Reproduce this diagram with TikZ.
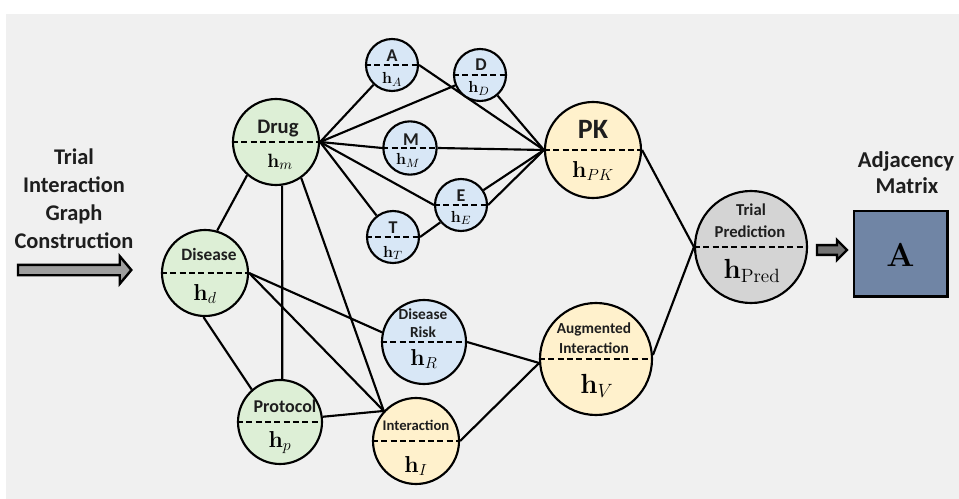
\documentclass[tikz,border=0pt]{standalone}
\usepackage[no-math]{fontspec}
\setmainfont{Carlito}
\usetikzlibrary{shapes.arrows}
\definecolor{bgc}{HTML}{F0F0F0}
\definecolor{cgreen}{HTML}{DDEFD6}
\definecolor{cblue}{HTML}{D8E7F6}
\definecolor{cyellow}{HTML}{FFF1CC}
\definecolor{cgray}{HTML}{D4D4D4}
\definecolor{cmat}{HTML}{7085A5}
\definecolor{txt}{HTML}{1E1E1E}
\pgfdeclarelayer{bglayer}
\pgfdeclarelayer{edgelayer}
\pgfsetlayers{bglayer,edgelayer,main}
\begin{document}
\begin{tikzpicture}[x=0.75pt,y=-0.75pt,
  circ/.style={circle, draw=black, line width=1.6pt, inner sep=0pt, minimum size=#1},
  dline/.style={line width=1.4pt, dash pattern=on 4.5pt off 2.5pt},
  conn/.style={line width=1.6pt, draw=black},
  lbl/.style={font=\bfseries\fontsize{#1}{#1}\selectfont, text=txt, inner sep=0pt, anchor=base},
  mlbl/.style={font=\fontsize{#1}{#1}\selectfont, text=black, inner sep=0pt, anchor=base},
  blockarrow/.style={shape=single arrow, draw=black, line width=1.8pt, inner xsep=0pt, single arrow head indent=0pt}
]
\useasboundingbox (0,0) rectangle (959,499);
\begin{pgfonlayer}{bglayer}
\fill[white] (0,0) rectangle (959,499);
\fill[bgc] (6,14) rectangle (959,499);
\end{pgfonlayer}

% main nodes
\node[circ=64.5pt, fill=cgreen] (Drug) at (276,142) {};
\node[circ=64.5pt, fill=cgreen] (Disease) at (205,273) {};
\node[circ=63pt, fill=cgreen] (Protocol) at (280,422) {};
\node[circ=64.5pt, fill=cyellow] (Inter) at (416,441) {};
\node[circ=63pt, fill=cblue] (Risk) at (424,342) {};
\node[circ=84pt, fill=cyellow] (Aug) at (596,359) {};
\node[circ=72pt, fill=cyellow] (PK) at (593,150) {};
\node[circ=84pt, fill=cgray] (Pred) at (751,247) {};
% small nodes
\node[circ=39pt, fill=cblue] (A) at (392,65) {};
\node[circ=39pt, fill=cblue] (D) at (480,75) {};
\node[circ=40pt, fill=cblue] (M) at (410,148) {};
\node[circ=39pt, fill=cblue] (E) at (461,205) {};
\node[circ=39pt, fill=cblue] (T) at (393,237) {};

% dashed dividers
\foreach \n in {Drug,Disease,Protocol,Inter,Risk,Aug,PK,Pred,A,D,M,E,T}
  \draw[dline] (\n.west) -- (\n.east);

% connectors
\begin{pgfonlayer}{edgelayer}
\draw[conn] (Drug.229) -- (Disease.74);
\draw[conn] (Drug.278) -- (Protocol.87);
\draw[conn] (Drug.305) -- (Inter.137);
\draw[conn] (Disease.268) -- (Protocol.131);
\draw[conn] (Disease.east) -- (Risk.167);
\draw[conn] (Disease.east) -- (Inter.137);
\draw[conn] (Protocol.7) -- (Inter.137);
\draw[conn] (Risk.east) -- (Aug.184);
\draw[conn] (Inter.east) -- (Aug.184);
\draw[conn] (Aug.4) -- (Pred.west);
\draw[conn] (PK.east) -- (Pred.west);
\draw[conn] (Drug.east) -- (A);
\draw[conn] (Drug.east) -- (D);
\draw[conn] (Drug.east) -- (M.west);
\draw[conn] (Drug.east) -- (E.west);
\draw[conn] (Drug.east) -- (T);
\draw[conn] (A.east) -- (PK.west);
\draw[conn] (D) -- (PK.west);
\draw[conn] (M.east) -- (PK.west);
\draw[conn] (E) -- (PK.west);
\draw[conn] (E.east) -- (PK.west);
\draw[conn] (T.east) -- (E.220);
\end{pgfonlayer}

% labels in circles
\node[lbl=15.5pt] (Drug-t) at (278,133) {Drug};
\node[mlbl=15.5pt] (Drug-h) at (280,167) {$\mathbf{h}_m$};
\node[lbl=13pt] (Disease-t) at (209,260) {Disease};
\node[mlbl=16.5pt] (Disease-h) at (205,300) {$\mathbf{h}_d$};
\node[lbl=13.5pt] (Protocol-t) at (285,412) {Protocol};
\node[mlbl=16.5pt] (Protocol-h) at (280,447) {$\mathbf{h}_p$};
\node[lbl=11pt] (Inter-t) at (416,430) {Interaction};
\node[mlbl=18pt] (Inter-h) at (416,472) {$\mathbf{h}_I$};
\node[lbl=11.5pt] (Risk-t1) at (423,319) {Disease};
\node[lbl=11.5pt] (Risk-t2) at (423,337) {Risk};
\node[mlbl=18pt] (Risk-h) at (424,365) {$\mathbf{h}_R$};
\node[lbl=11.5pt] (Aug-t1) at (594,333) {Augmented};
\node[lbl=11.5pt] (Aug-t2) at (594,353) {Interaction};
\node[mlbl=20.5pt] (Aug-h) at (597,393) {$\mathbf{h}_V$};
\node[lbl=21pt] (PK-t) at (593,139) {PK};
\node[mlbl=18pt] (PK-h) at (593,177) {$\mathbf{h}_{PK}$};
\node[lbl=12.5pt] (Pred-t1) at (751,215) {Trial};
\node[lbl=12.5pt] (Pred-t2) at (750,237) {Prediction};
\node[mlbl=21pt] (Pred-h) at (752,278) {$\mathbf{h}_{\mathrm{Pred}}$};
\node[lbl=13.5pt] (A-t) at (392,62) {A};
\node[mlbl=13pt] (A-h) at (392,84) {$\mathbf{h}_A$};
\node[lbl=13.5pt] (D-t) at (481,71) {D};
\node[mlbl=13pt] (D-h) at (479,93) {$\mathbf{h}_D$};
\node[lbl=13.5pt] (M-t) at (411,146) {M};
\node[mlbl=13pt] (M-h) at (408,165) {$\mathbf{h}_M$};
\node[lbl=13.5pt] (E-t) at (461,201) {E};
\node[mlbl=13pt] (E-h) at (461,222) {$\mathbf{h}_E$};
\node[lbl=13.5pt] (T-t) at (393,233) {T};
\node[mlbl=13pt] (T-h) at (393,257) {$\mathbf{h}_T$};

% left title and arrow
\node[lbl=16.8pt] (L1) at (74,165) {Trial};
\node[lbl=16.8pt] (L2) at (74,192) {Interaction};
\node[lbl=16.8pt] (L3) at (74,220) {Graph};
\node[lbl=16.8pt] (L4) at (74,248) {Construction};
\node[blockarrow, fill=black!38, inner ysep=3pt, minimum height=85pt,
      single arrow head extend=6.5pt, single arrow tip angle=100] (LArrow) at (72.5,270) {};

% right side
\node[blockarrow, fill=black!55, inner ysep=2.8pt, minimum height=22.5pt,
      single arrow head extend=3.8pt, single arrow tip angle=90] (RArrow) at (829.5,250) {};
\node[draw=black, line width=2pt, fill=cmat, minimum width=70pt, minimum height=64pt, inner sep=0pt] (Mat) at (900.5,253.5) {};
\node[mlbl=30pt] (Mat-t) at (900.5,266) {$\mathbf{A}$};
\node[lbl=17pt] (R1) at (906,167) {Adjacency};
\node[lbl=17pt] (R2) at (907,193) {Matrix};
\end{tikzpicture}
\end{document}
